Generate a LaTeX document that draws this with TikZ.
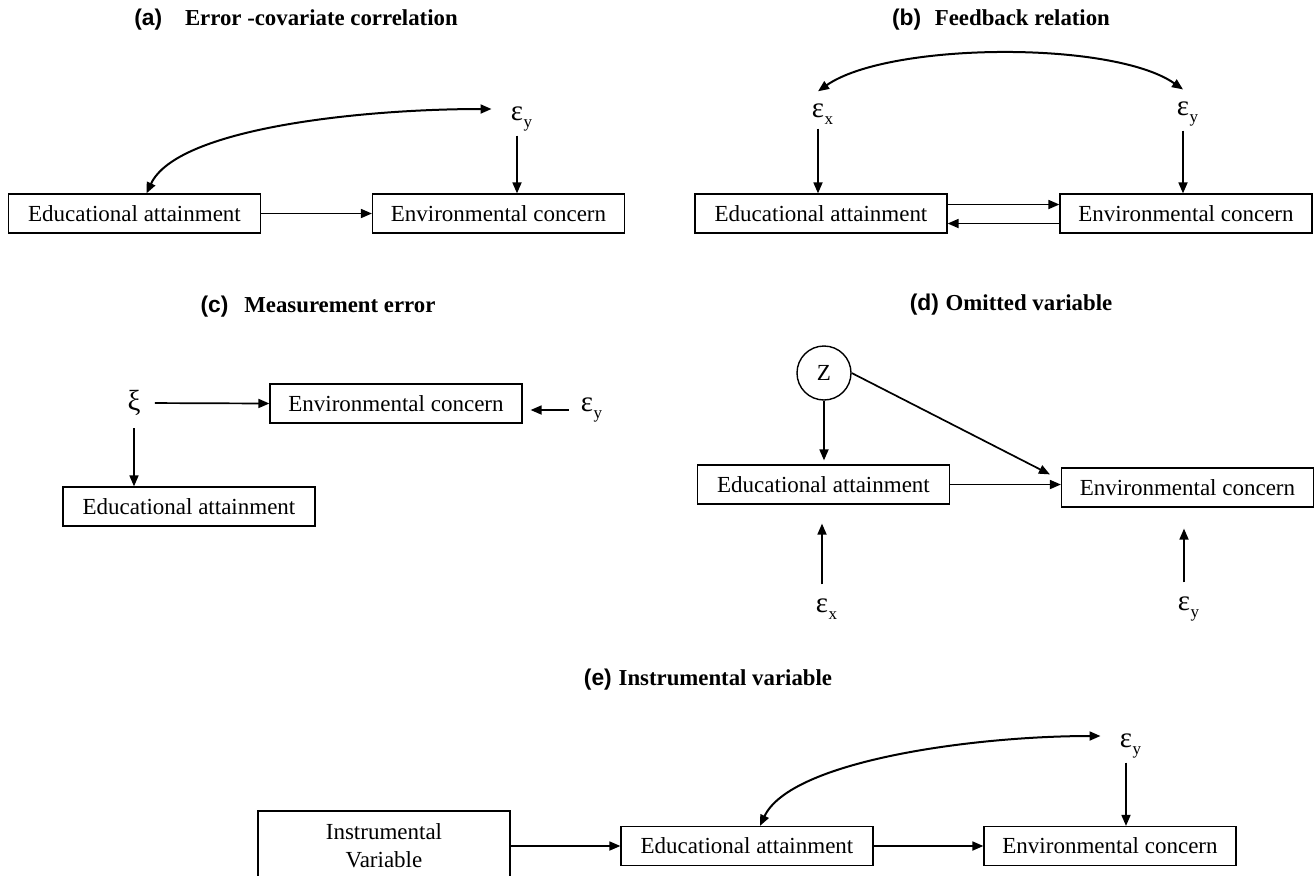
\documentclass[tikz,border=0pt]{standalone}
\usepackage{fontspec}
\setmainfont{Liberation Serif}
\newfontfamily\tagfont{Liberation Sans}
\usetikzlibrary{arrows.meta}

\def\unit{0.5pt}
\newcommand{\errsym}[1]{ε\rlap{\kern0.3pt\raisebox{-3.5pt}{\fontsize{8.5}{8.5}\selectfont #1}}}
\newcommand{\paneltitle}[3]{{\tagfont (#1)}\hspace{#2}#3}

\tikzset{
  varbox/.style={draw, line width=0.6pt, minimum width=126pt, minimum height=19.5pt, inner sep=2pt, font=\fontsize{11.5}{14}\selectfont},
  errnode/.style={inner sep=2pt, font=\fontsize{14.5}{14}\selectfont},
  titletext/.style={font=\fontsize{11.4}{13}\selectfont\bfseries},
  arr/.style={line width=0.85pt, -{Triangle[length=5.5pt,width=4.5pt]}},
  covarr/.style={line width=1pt, {Triangle[length=5.5pt,width=4.5pt]}-{Triangle[length=5.5pt,width=4.5pt]}},
}

\begin{document}
\begin{tikzpicture}[x=\unit, y=-\unit]
      \useasboundingbox (0,0) rectangle (1314,875);

      \node[titletext] (titlea) at (296,20) {\paneltitle{a}{1em}{Error -covariate correlation}};
      \node[varbox] (eaa) at (134.5,213.5) {Educational attainment};
      \node[varbox] (eca) at (498.5,213.5) {Environmental concern};
      \node[errnode] (eya) at (517,119) {\errsym{y}};
      \draw[arr] (eaa) -- (eca);
      \draw[arr] (eya.south) -- (eya.south |- eca.north);
      \draw[covarr, shorten >=7.5pt] ([xshift=6pt]eaa.north) to[out=65, in=180, out looseness=0.5] ([yshift=5pt]eya.west);

      \node[titletext] (titleb) at (1001,20) {\paneltitle{b}{0.6em}{Feedback relation}};
      \node[varbox] (eab) at (821,213.5) {Educational attainment};
      \node[varbox] (ecb) at (1186,213.5) {Environmental concern};
      \node[errnode] (exb) at (818,114) {\errsym{x}};
      \node[errnode] (eyb) at (1183,114) {\errsym{y}};
      \draw[arr] (exb.south) -- (exb.south |- eab.north);
      \draw[arr] (eyb.south) -- (eyb.south |- ecb.north);
      \draw[arr] ([yshift=4.5pt]eab.east) -- ([yshift=4.5pt]ecb.west);
      \draw[arr] ([yshift=-5pt]ecb.west) -- ([yshift=-5pt]eab.east);
      \draw[covarr] ([yshift=4pt]exb.north) to[out=35, in=145, looseness=0.6] ([yshift=4pt]eyb.north);

      \node[titletext] (titlec) at (318,307) {\paneltitle{c}{0.7em}{Measurement error}};
      \node[errnode] (xic) at (134,403) {ξ};
      \node[varbox] (ecc) at (396,403.5) {Environmental concern};
      \node[varbox] (eac) at (189,506.5) {Educational attainment};
      \node[errnode] (eyc) at (587,410) {\errsym{y}};
      \draw[arr, shorten <=5pt] (xic.east) -- (ecc.west);
      \draw[arr, shorten <=4pt] (xic.south) -- (xic.south |- eac.north);
      \draw[arr, shorten >=4pt] ([xshift=-4pt]eyc.west) -- (eyc.west -| ecc.east);

      \node[titletext] (titled) at (1011,305) {\paneltitle{d}{0.3em}{Omitted variable}};
      \node[draw, circle, line width=0.7pt, minimum size=27pt, inner sep=0pt, font=\fontsize{11.5}{14}\selectfont] (zd) at (824,373) {Z};
      \node[varbox] (ead) at (823.5,484.5) {Educational attainment};
      \node[varbox] (ecd) at (1187.5,487.5) {Environmental concern};
      \node[errnode] (exd) at (822,609) {\errsym{x}};
      \node[errnode] (eyd) at (1184,609) {\errsym{y}};
      \draw[arr, shorten >=2pt] (zd.south) -- (zd.south |- ead.north);
      \draw[arr] (zd.east) -- ([shift={(-5.5pt,-3.5pt)}]ecd.north west);
      \draw[arr] (ead.east) -- (ead.east -| ecd.west);
      \draw[arr, shorten >=9.5pt] ([yshift=5pt]exd.north) -- (exd.north |- ead.south);
      \draw[arr, shorten >=10.5pt] ([yshift=5pt]eyd.north) -- (eyd.north |- ecd.south);

      \node[titletext] (titlee) at (708,680) {\paneltitle{e}{0.3em}{Instrumental variable}};
      \node[varbox, align=center, minimum height=35pt] (ive) at (384,846) {Instrumental\\Variable};
      \node[varbox] (eae) at (747,846) {Educational attainment};
      \node[varbox] (ece) at (1110,846) {Environmental concern};
      \node[errnode] (eye) at (1126,746) {\errsym{y}};
      \draw[arr] (ive) -- (eae);
      \draw[arr] (eae) -- (ece);
      \draw[arr] (eye.south) -- (eye.south |- ece.north);
      \draw[covarr, shorten >=7.5pt] ([xshift=6.5pt]eae.north) to[out=65, in=180, out looseness=0.5] ([yshift=5pt]eye.west);
\end{tikzpicture}
\end{document}
